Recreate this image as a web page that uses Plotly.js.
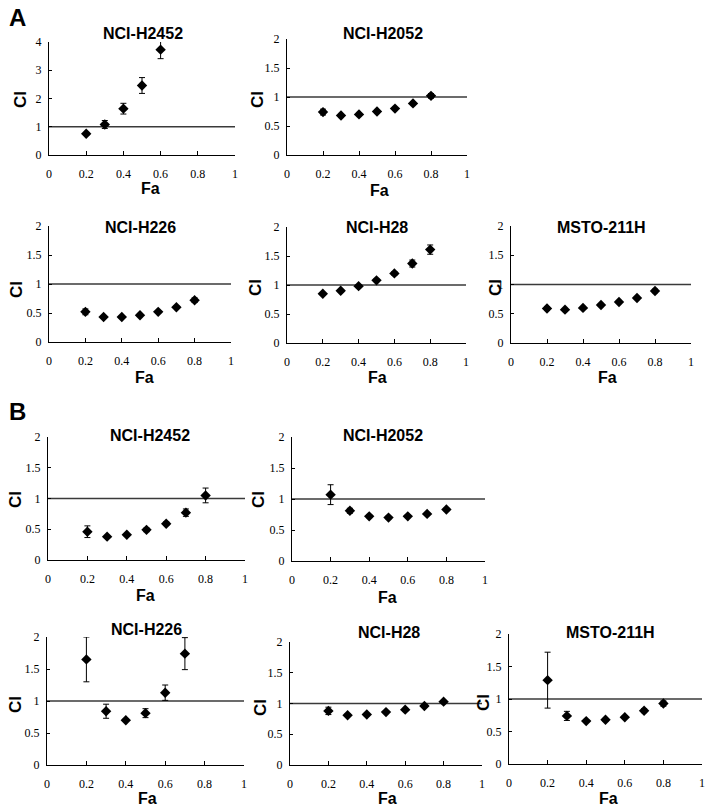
<!DOCTYPE html>
<html>
<head>
<meta charset="utf-8">
<script src="https://cdn.plot.ly/plotly-3.0.1.min.js"></script>
<style>html,body{margin:0;padding:0;background:#fff;}#chart{width:711px;height:809px;}</style>
</head>
<body>
<div id="chart"></div>
<script>
// ---- Data ----
var faValues = [0.2, 0.3, 0.4, 0.5, 0.6, 0.7, 0.8];
var faValuesH226B = [0.2, 0.3, 0.4, 0.5, 0.6, 0.7];
var refX = [0, 1];
var refY = [1, 1];

var cellLines = ["NCI-H2452", "NCI-H2052", "NCI-H226", "NCI-H28", "MSTO-211H"];

// Panel A
var ciA_H2452 = [0.75, 1.08, 1.64, 2.46, 3.73];
var errA_H2452 = [0.05, 0.14, 0.19, 0.28, 0.32];
var ciA_H2052 = [0.74, 0.68, 0.70, 0.75, 0.80, 0.89, 1.02];
var errA_H2052 = [0.05, 0.02, 0.02, 0.02, 0.02, 0.02, 0.04];
var ciA_H226 = [0.52, 0.43, 0.43, 0.46, 0.52, 0.60, 0.72];
var errA_H226 = [0.05, 0.02, 0.02, 0.02, 0.02, 0.02, 0.04];
var ciA_H28 = [0.85, 0.90, 0.98, 1.08, 1.20, 1.37, 1.61];
var errA_H28 = [0.02, 0.02, 0.02, 0.02, 0.03, 0.06, 0.08];
var ciA_MSTO = [0.59, 0.57, 0.60, 0.65, 0.70, 0.77, 0.89];
var errA_MSTO = [0.03, 0.02, 0.02, 0.02, 0.02, 0.02, 0.03];

// Panel B
var ciB_H2452 = [0.46, 0.38, 0.41, 0.49, 0.59, 0.77, 1.05];
var errB_H2452 = [0.095, 0.02, 0.02, 0.03, 0.03, 0.06, 0.12];
var ciB_H2052 = [1.07, 0.81, 0.72, 0.70, 0.72, 0.76, 0.83];
var errB_H2052 = [0.16, 0.04, 0.02, 0.02, 0.02, 0.02, 0.02];
var ciB_H226 = [1.65, 0.84, 0.70, 0.81, 1.13, 1.74];
var errB_H226 = [0.35, 0.11, 0.02, 0.07, 0.12, 0.25];
var ciB_H28 = [0.88, 0.81, 0.82, 0.86, 0.90, 0.96, 1.03];
var errB_H28 = [0.06, 0.02, 0.02, 0.02, 0.02, 0.02, 0.02];
var ciB_MSTO = [1.29, 0.74, 0.66, 0.68, 0.72, 0.82, 0.93];
var errB_MSTO = [0.43, 0.07, 0.02, 0.02, 0.02, 0.03, 0.04];

// ---- Layout geometry (pixels) ----
var W = 711, H = 809;
var panels = [
  {name: cellLines[0], x: faValues.slice(0, 5), y: ciA_H2452, e: errA_H2452, ymax: 4, dtick: 1,
   box: [49, 235, 42, 155], title: [143, 33], ci: [20, 100], fa: [150, 189]},
  {name: cellLines[1], x: faValues, y: ciA_H2052, e: errA_H2052, ymax: 2, dtick: 0.5,
   box: [287, 467, 39, 155], title: [383, 33], ci: [257, 100], fa: [380, 190]},
  {name: cellLines[2], x: faValues, y: ciA_H226, e: errA_H226, ymax: 2, dtick: 0.5,
   box: [49, 231, 226, 342], title: [140, 227], ci: [17, 290], fa: [144, 377]},
  {name: cellLines[3], x: faValues, y: ciA_H28, e: errA_H28, ymax: 2, dtick: 0.5,
   box: [287, 466, 227, 343], title: [377, 227], ci: [255, 288], fa: [377, 378]},
  {name: cellLines[4], x: faValues, y: ciA_MSTO, e: errA_MSTO, ymax: 2, dtick: 0.5,
   box: [511, 691, 226, 343], title: [601, 227], ci: [495, 288], fa: [607, 378]},
  {name: cellLines[0], x: faValues, y: ciB_H2452, e: errB_H2452, ymax: 2, dtick: 0.5,
   box: [48, 245, 437, 560], title: [150, 435], ci: [15, 500], fa: [145, 595]},
  {name: cellLines[1], x: faValues, y: ciB_H2052, e: errB_H2052, ymax: 2, dtick: 0.5,
   box: [292, 485, 437, 561], title: [383, 435], ci: [258, 500], fa: [388, 597]},
  {name: cellLines[2], x: faValuesH226B, y: ciB_H226, e: errB_H226, ymax: 2, dtick: 0.5,
   box: [47, 244, 637, 765], title: [146, 629], ci: [15, 705], fa: [147, 798]},
  {name: cellLines[3], x: faValues, y: ciB_H28, e: errB_H28, ymax: 2, dtick: 0.5,
   box: [290, 482, 642, 765], title: [389, 632], ci: [260, 708], fa: [387, 798]},
  {name: cellLines[4], x: faValues, y: ciB_MSTO, e: errB_MSTO, ymax: 2, dtick: 0.5,
   box: [509, 702, 634, 764], title: [610, 632], ci: [483, 703], fa: [608, 798]}
];

var traces = [];
var layout = {
  width: W, height: H,
  margin: {l: 0, r: 0, t: 0, b: 0},
  paper_bgcolor: '#ffffff', plot_bgcolor: 'rgba(0,0,0,0)',
  showlegend: false,
  font: {family: 'Liberation Serif, Times New Roman, serif', size: 12, color: '#000'},
  annotations: [],
  shapes: []
};

function px2x(p) { return p / W; }
function px2y(p) { return 1 - p / H; }

panels.forEach(function (p, i) {
  var n = i + 1;
  var xa = n === 1 ? 'x' : 'x' + n;
  var ya = n === 1 ? 'y' : 'y' + n;
  var xk = n === 1 ? 'xaxis' : 'xaxis' + n;
  var yk = n === 1 ? 'yaxis' : 'yaxis' + n;

  traces.push({
    type: 'scatter', mode: 'lines', x: refX, y: refY, xaxis: xa, yaxis: ya,
    line: {color: '#3a3a3a', width: 1.3}, hoverinfo: 'skip', cliponaxis: false
  });
  traces.push({
    type: 'scatter', mode: 'markers', x: p.x, y: p.y, xaxis: xa, yaxis: ya,
    marker: {symbol: 'diamond', size: 8, color: '#000'},
    error_y: {type: 'data', array: p.e, visible: true, color: '#000', thickness: 1, width: 3},
    cliponaxis: false
  });

  layout[xk] = {
    domain: [px2x(p.box[0]), px2x(p.box[1])],
    anchor: ya, range: [0, 1], dtick: 0.2, tick0: 0,
    showgrid: false, zeroline: false, showline: true, linecolor: '#000', linewidth: 1,
    ticks: 'inside', ticklen: 4, tickcolor: '#000', tickwidth: 1,
    ticklabelstandoff: 8,
    tickfont: {family: 'Liberation Serif, Times New Roman, serif', size: 12, color: '#000'},
    fixedrange: true
  };
  layout[yk] = {
    domain: [px2y(p.box[3]), px2y(p.box[2])],
    anchor: xa, range: [0, p.ymax], dtick: p.dtick, tick0: 0,
    showgrid: false, zeroline: false, showline: true, linecolor: '#000', linewidth: 1,
    ticks: 'inside', ticklen: 3, tickcolor: '#000', tickwidth: 1,
    ticklabelstandoff: 4,
    tickfont: {family: 'Liberation Serif, Times New Roman, serif', size: 12, color: '#000'},
    fixedrange: true
  };

  layout.annotations.push({
    xref: 'paper', yref: 'paper', x: px2x(p.title[0]), y: px2y(p.title[1]),
    xanchor: 'center', yanchor: 'middle', showarrow: false, text: p.name,
    font: {family: 'Liberation Sans, Arial, sans-serif', size: 16, color: '#000', weight: 'bold'}
  });
  layout.annotations.push({
    xref: 'paper', yref: 'paper', x: px2x(p.ci[0]), y: px2y(p.ci[1]),
    xanchor: 'center', yanchor: 'middle', showarrow: false, text: 'CI', textangle: -90,
    font: {family: 'Liberation Sans, Arial, sans-serif', size: 17, color: '#000', weight: 'bold'}
  });
  layout.annotations.push({
    xref: 'paper', yref: 'paper', x: px2x(p.fa[0]), y: px2y(p.fa[1]),
    xanchor: 'center', yanchor: 'middle', showarrow: false, text: 'Fa',
    font: {family: 'Liberation Sans, Arial, sans-serif', size: 16, color: '#000', weight: 'bold'}
  });
});

layout.annotations.push({
  xref: 'paper', yref: 'paper', x: px2x(17), y: px2y(17),
  xanchor: 'center', yanchor: 'middle', showarrow: false, text: 'A',
  font: {family: 'Liberation Sans, Arial, sans-serif', size: 24, color: '#000', weight: 'bold'}
});
layout.annotations.push({
  xref: 'paper', yref: 'paper', x: px2x(17), y: px2y(411),
  xanchor: 'center', yanchor: 'middle', showarrow: false, text: 'B',
  font: {family: 'Liberation Sans, Arial, sans-serif', size: 24, color: '#000', weight: 'bold'}
});

Plotly.newPlot('chart', traces, layout, {displayModeBar: false, staticPlot: true});
</script>
</body>
</html>
